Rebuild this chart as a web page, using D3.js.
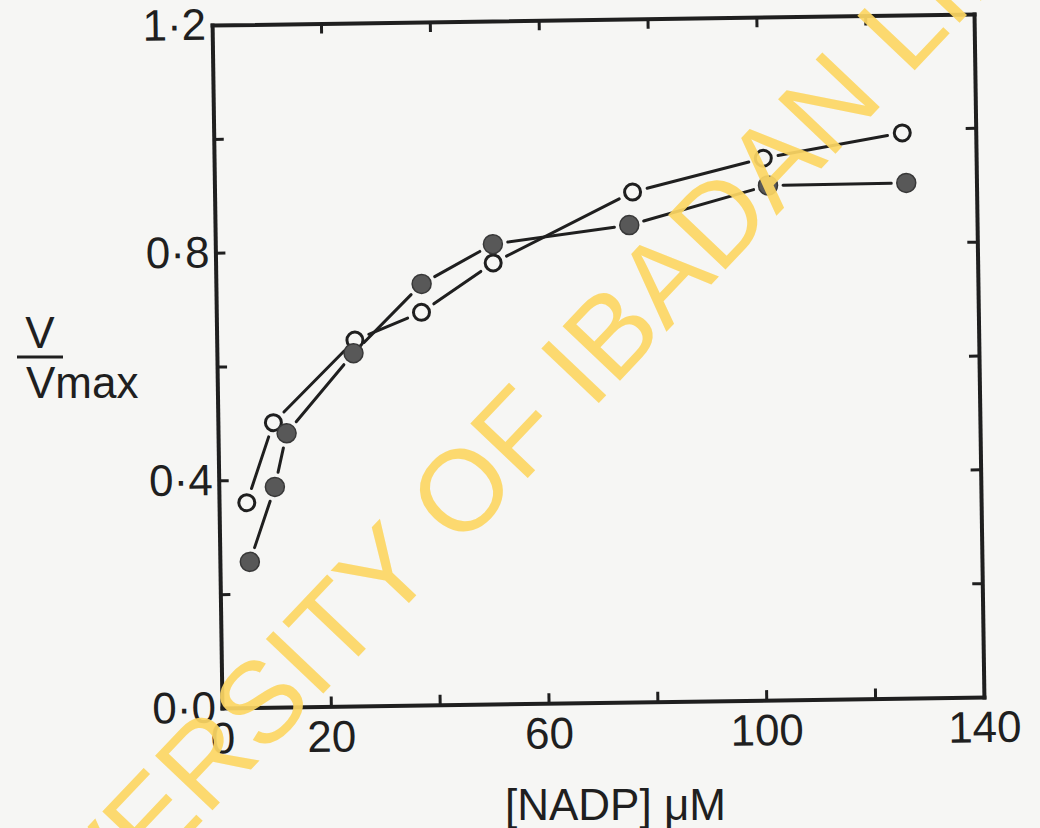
<!DOCTYPE html>
<html>
<head>
<meta charset="utf-8">
<script src="https://cdn.jsdelivr.net/npm/d3@7"></script>
<style>
  html, body { margin: 0; padding: 0; background: #f6f6f4; }
  svg { display: block; }
</style>
</head>
<body>
<div id="chart"></div>
<script>
// Drawing area, same size as the scanned figure
const w = 1040;
const h = 828;

// Plot frame (unrotated). The scan is tilted a little, so the frame is rotated afterwards.
const frameLeft = 222, frameRight = 984, frameTop = 25, frameBottom = 708;
const tilt = -0.83;

// Data: [NADP] in uM and v/Vmax
const openX = [5.1, 10.2, 25.4, 37.7, 51.0, 76.8, 100.9, 126.5];
const openY = [0.36, 0.50, 0.643, 0.69, 0.775, 0.896, 0.952, 0.993];
const filledX = [5.5, 10.3, 12.6, 25.1, 37.8, 51.0, 76.1, 101.7, 127.1];
const filledY = [0.256, 0.387, 0.481, 0.62, 0.74, 0.808, 0.838, 0.904, 0.905];

// Ticks and labels
const xTicks = [20, 40, 60, 80, 100, 120];
const xLabels = [0, 20, 60, 100, 140];
const yTicks = [0.2, 0.4, 0.6, 0.8, 1.0];
const yLabels = [0, 0.4, 0.8, 1.2];

const ink = "#1f1f1f";
const font = "'Liberation Sans', Arial, sans-serif";

const svg = d3.select("#chart").append("svg")
  .attr("width", w)
  .attr("height", h);

svg.append("rect").attr("width", w).attr("height", h).attr("fill", "#f6f6f4");

const xScale = d3.scaleLinear().domain([0, 140]).range([frameLeft, frameRight]);
const yScale = d3.scaleLinear().domain([0, 1.2]).range([frameBottom, frameTop]);

const plot = svg.append("g")
  .attr("transform", `rotate(${tilt}, ${frameLeft}, ${frameBottom})`);

// frame with inward ticks on all four sides
function frameAxis(axis, transform) {
  const g = plot.append("g").attr("transform", transform).call(axis);
  g.select(".domain").attr("stroke", ink).attr("stroke-width", 4).attr("stroke-linecap", "square");
  g.selectAll(".tick line").attr("stroke", ink).attr("stroke-width", 3);
  return g;
}

frameAxis(d3.axisBottom(xScale).tickValues(xTicks).tickSize(-10).tickSizeOuter(0).tickFormat(""), `translate(0,${frameBottom})`);
frameAxis(d3.axisTop(xScale).tickValues(xTicks).tickSize(-10).tickSizeOuter(0).tickFormat(""), `translate(0,${frameTop})`);
frameAxis(d3.axisLeft(yScale).tickValues(yTicks).tickSize(-10).tickSizeOuter(0).tickFormat(""), `translate(${frameLeft},0)`);
frameAxis(d3.axisRight(yScale).tickValues(yTicks).tickSize(-10).tickSizeOuter(0).tickFormat(""), `translate(${frameRight},0)`);

// tick labels
const dotFormat = v => d3.format(".1f")(v).replace(".", "\u00b7");

const xLab = plot.append("g")
  .attr("transform", `translate(0,${frameBottom})`)
  .call(d3.axisBottom(xScale).tickValues(xLabels).tickSize(0).tickPadding(14).tickFormat(d3.format("d")));
xLab.select(".domain").remove();

const yLab = plot.append("g")
  .attr("transform", `translate(${frameLeft},0)`)
  .call(d3.axisLeft(yScale).tickValues(yLabels).tickSize(0).tickPadding(6).tickFormat(dotFormat));
yLab.select(".domain").remove();

[xLab, yLab].forEach(g => {
  g.attr("font-family", font).attr("font-size", 44);
  g.selectAll("text").attr("fill", ink);
});

// connecting lines stop short of the circles
const gap = 15;
function drawSeries(xs, ys, filled) {
  const pts = xs.map((x, i) => [xScale(x), yScale(ys[i])]);
  const segs = d3.pairs(pts).map(([a, b]) => {
    const dx = b[0] - a[0], dy = b[1] - a[1];
    const len = Math.hypot(dx, dy);
    const ux = dx / len, uy = dy / len;
    return [a[0] + ux * gap, a[1] + uy * gap, b[0] - ux * gap, b[1] - uy * gap];
  });

  plot.append("g").selectAll("line")
    .data(segs)
    .enter()
    .append("line")
    .attr("x1", d => d[0]).attr("y1", d => d[1])
    .attr("x2", d => d[2]).attr("y2", d => d[3])
    .attr("stroke", ink)
    .attr("stroke-width", 3)
    .attr("stroke-linecap", "round");

  plot.append("g").selectAll("circle")
    .data(pts)
    .enter()
    .append("circle")
    .attr("cx", d => d[0])
    .attr("cy", d => d[1])
    .attr("r", filled ? 9.5 : 8)
    .attr("fill", filled ? "#585858" : "#f6f6f4")
    .attr("stroke", filled ? "#383838" : ink)
    .attr("stroke-width", filled ? 1.5 : 3);
}

drawSeries(openX, openY, false);
drawSeries(filledX, filledY, true);

// axis titles
svg.append("text")
  .attr("x", 505)
  .attr("y", 820)
  .attr("font-family", font)
  .attr("font-size", 44)
  .attr("fill", ink)
  .text("[NADP] \u03bcM");

const yTitle = svg.append("g").attr("font-family", font).attr("fill", ink);
yTitle.append("text")
  .attr("x", 40).attr("y", 348)
  .attr("font-size", 44)
  .attr("text-anchor", "middle")
  .text("V");
yTitle.append("line")
  .attr("x1", 17).attr("x2", 63)
  .attr("y1", 357).attr("y2", 357)
  .attr("stroke", ink).attr("stroke-width", 3);
yTitle.append("text")
  .attr("x", 26).attr("y", 398)
  .attr("font-size", 44)
  .text("Vmax");

// library watermark over the scan
svg.append("text")
  .attr("transform", "translate(-36,1072) rotate(-46.5)")
  .attr("font-family", font)
  .attr("font-size", 115)
  .attr("fill", "#fdd764")
  .attr("opacity", 0.92)
  .text("UNIVERSITY OF IBADAN LIBRARY");
</script>
</body>
</html>
